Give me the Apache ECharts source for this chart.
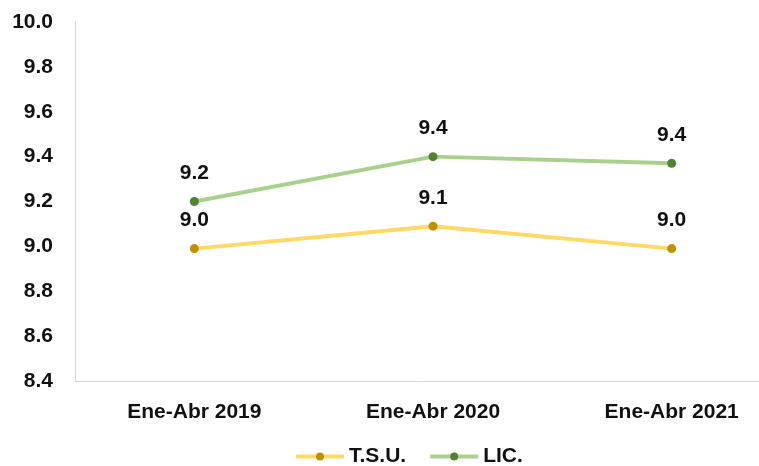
<!DOCTYPE html>
<html>
<head>
<meta charset="utf-8">
<script src="https://cdn.jsdelivr.net/npm/echarts@6/dist/echarts.min.js"></script>
<style>
html,body{margin:0;padding:0;background:#fff;}
#chart{width:759px;height:466px;}
</style>
</head>
<body>
<div id="chart"></div>
<script>
const categories = ['Ene-Abr 2019', 'Ene-Abr 2020', 'Ene-Abr 2021'];
const seriesNames = ['T.S.U.', 'LIC.'];
const tsuValues = [8.99, 9.09, 8.99];
const licValues = [9.2, 9.4, 9.37];
const yMin = 8.4, yMax = 10.0, yStep = 0.2;

const FONT = '"Liberation Sans", Arial, sans-serif';
const chart = echarts.init(document.getElementById('chart'), null, {renderer: 'canvas'});

function mkSeries(name, data, lineColor, markerColor) {
  return {
    name: name,
    type: 'line',
    data: data,
    symbol: 'circle',
    symbolSize: 9,
    lineStyle: {color: lineColor, width: 4},
    itemStyle: {color: markerColor, borderColor: markerColor, borderWidth: 0},
    label: {
      show: true,
      position: 'top',
      distance: 13,
      formatter: p => p.value.toFixed(1),
      fontFamily: FONT,
      fontSize: 21,
      fontWeight: 'bold',
      color: '#111111'
    },
    emphasis: {disabled: true},
    animation: false
  };
}

chart.setOption({
  backgroundColor: '#ffffff',
  animation: false,
  grid: {left: 75, top: 22, width: 716, bottom: 85, containLabel: false, outerBoundsMode: 'none'},
  legend: {
    data: seriesNames,
    left: 289,
    top: 441,
    itemWidth: 48,
    itemHeight: 10,
    itemGap: 22,
    lineStyle: {width: 4},
    textStyle: {fontFamily: FONT, fontSize: 21, fontWeight: 'bold', color: '#111111'}
  },
  xAxis: {
    type: 'category',
    data: categories,
    boundaryGap: true,
    axisLine: {show: true, lineStyle: {color: '#d9d9d9', width: 1}},
    axisTick: {show: false},
    axisLabel: {fontFamily: FONT, fontSize: 21, fontWeight: 'bold', color: '#111111', margin: 21},
    splitLine: {show: false}
  },
  yAxis: {
    type: 'value',
    min: yMin,
    max: yMax,
    interval: yStep,
    axisLine: {show: true, lineStyle: {color: '#d9d9d9', width: 1}},
    axisTick: {show: false},
    splitLine: {show: false},
    axisLabel: {
      fontFamily: FONT, fontSize: 21, fontWeight: 'bold', color: '#111111', margin: 22,
      formatter: v => v.toFixed(1)
    }
  },
  series: [
    mkSeries(seriesNames[0], tsuValues, '#FFD966', '#BF9000'),
    mkSeries(seriesNames[1], licValues, '#A9D18E', '#548235')
  ]
});
</script>
</body>
</html>
